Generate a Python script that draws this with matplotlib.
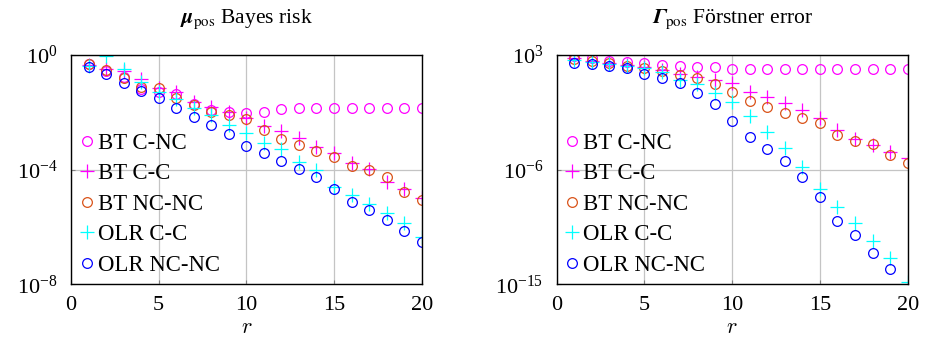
import numpy as np
import matplotlib
matplotlib.use('Agg')
import matplotlib.pyplot as plt
from matplotlib.ticker import NullLocator, FixedLocator

matplotlib.rcParams.update({'font.size': 16,
                            'font.family': 'Liberation Serif',
                            'mathtext.fontset': 'cm'})

r = np.arange(1, 21)
labels = ['BT C-NC', 'BT C-C', 'BT NC-NC', 'OLR C-C', 'OLR NC-NC']

# log10 of the posterior-mean Bayes risk
mu_bt_cnc = [-0.33, -0.55, -0.78, -1.20, -1.28, -1.36, -1.72, -1.92, -2.00, -2.03,
             -2.00, -1.88, -1.86, -1.86, -1.86, -1.86, -1.86, -1.86, -1.86, -1.86]
mu_bt_cc = [-0.35, -0.50, -0.55, -0.85, -1.15, -1.28, -1.63, -1.80, -1.98, -2.20,
            -2.48, -2.65, -2.91, -3.20, -3.41, -3.78, -3.99, -4.42, -4.69, -4.98]
mu_bt_ncnc = [-0.31, -0.52, -0.81, -1.13, -1.14, -1.51, -1.74, -1.98, -2.09, -2.24,
              -2.62, -2.94, -3.14, -3.34, -3.55, -3.87, -4.01, -4.24, -4.77, -5.06]
mu_olr_cc = [-0.38, -0.02, -0.50, -0.93, -1.28, -1.55, -1.86, -2.09, -2.44, -2.73,
             -3.06, -3.29, -3.72, -4.01, -4.59, -4.88, -5.20, -5.52, -5.87, -6.36]
mu_olr_ncnc = [-0.43, -0.66, -0.99, -1.24, -1.51, -1.86, -2.15, -2.44, -2.77, -3.17,
               -3.41, -3.69, -3.98, -4.27, -4.69, -5.12, -5.41, -5.76, -6.13, -6.51]

# log10 of the posterior-covariance Förstner error
g_bt_cnc = [2.92, 2.74, 2.55, 2.48, 2.35, 2.21, 2.14, 2.03, 2.03, 1.92,
            1.90, 1.90, 1.90, 1.90, 1.90, 1.90, 1.90, 1.90, 1.90, 1.90]
g_bt_cc = [2.75, 2.50, 2.35, 2.20, 2.05, 1.82, 1.51, 1.30, 1.04, 0.77,
           0.12, -0.27, -0.80, -1.32, -1.97, -2.89, -3.62, -4.07, -4.59, -5.12]
g_bt_ncnc = [2.66, 2.53, 2.35, 2.14, 1.95, 1.77, 1.43, 1.17, 0.72, 0.07,
             -0.61, -1.11, -1.53, -1.97, -2.37, -3.28, -3.73, -4.02, -4.85, -5.51]
g_olr_cc = [2.60, 2.48, 2.29, 2.14, 1.95, 1.70, 1.04, 0.72, -0.01, -0.72,
            -1.79, -3.02, -4.33, -5.77, -7.55, -8.91, -10.17, -11.58, -12.97, -14.80]
g_olr_ncnc = [2.40, 2.29, 2.14, 1.95, 1.51, 1.17, 0.77, 0.04, -0.87, -2.16,
              -3.41, -4.41, -5.32, -6.55, -8.18, -10.01, -11.14, -12.52, -13.81, np.nan]

styles = [('o', '#ff00ff'), ('+', '#ff00ff'), ('o', '#d95319'), ('+', '#00ffff'), ('o', '#0000ff')]


def draw(ax, series, ylo, yhi, yticks, title, legx):
    for vals, lab, (m, c) in zip(series, labels, styles):
        if m == 'o':
            ax.plot(r, 10.0 ** np.array(vals), ls='none', marker='o', ms=7, mfc='none',
                    mec=c, mew=0.9, label=lab)
        else:
            ax.plot(r, 10.0 ** np.array(vals), ls='none', marker='+', ms=9.5, mec=c,
                    mew=0.9, label=lab)
    ax.set_yscale('log')
    ax.set_xlim(0, 20)
    ax.set_ylim(ylo, yhi)
    ax.set_xticks([0, 5, 10, 15, 20])
    ax.yaxis.set_major_locator(FixedLocator(yticks))
    ax.yaxis.set_minor_locator(NullLocator())
    ax.grid(True, color='#c4c4c4', lw=0.9)
    ax.set_axisbelow(True)
    ax.tick_params(direction='in', length=3, color='#808080', labelsize=16)
    ax.tick_params(axis='x', pad=8.5)
    ax.tick_params(axis='y', pad=9.5)
    ax.set_xlabel('$r$', labelpad=3)
    ax.set_title(title, fontsize=15.5, pad=23, math_fontfamily='stix')
    ax.legend(loc='upper left', bbox_to_anchor=(legx, 0.662), frameon=False,
              fontsize=16.4, handlelength=0.6, handletextpad=0.2, borderpad=0,
              borderaxespad=0, labelspacing=0.42)
    for s in ax.spines.values():
        s.set_linewidth(1.0)


fig = plt.figure(figsize=(9.26, 3.40), dpi=100)
ax1 = fig.add_axes([0.0767, 0.1638, 0.3787, 0.6744])
ax2 = fig.add_axes([0.6012, 0.1638, 0.3790, 0.6744])

draw(ax1, [mu_bt_cnc, mu_bt_cc, mu_bt_ncnc, mu_olr_cc, mu_olr_ncnc], 1e-8, 1e0,
     [1e-8, 1e-4, 1e0], r'$\mathbfit{\mu}_{\mathrm{pos}}$ Bayes risk', 0.025)
draw(ax2, [g_bt_cnc, g_bt_cc, g_bt_ncnc, g_olr_cc, g_olr_ncnc], 1e-15, 1e3,
     [1e-15, 1e-6, 1e3], r'$\mathbfit{\Gamma}_{\mathrm{pos}}$ Förstner error', 0.023)

fig.savefig('out.png', dpi=100)
